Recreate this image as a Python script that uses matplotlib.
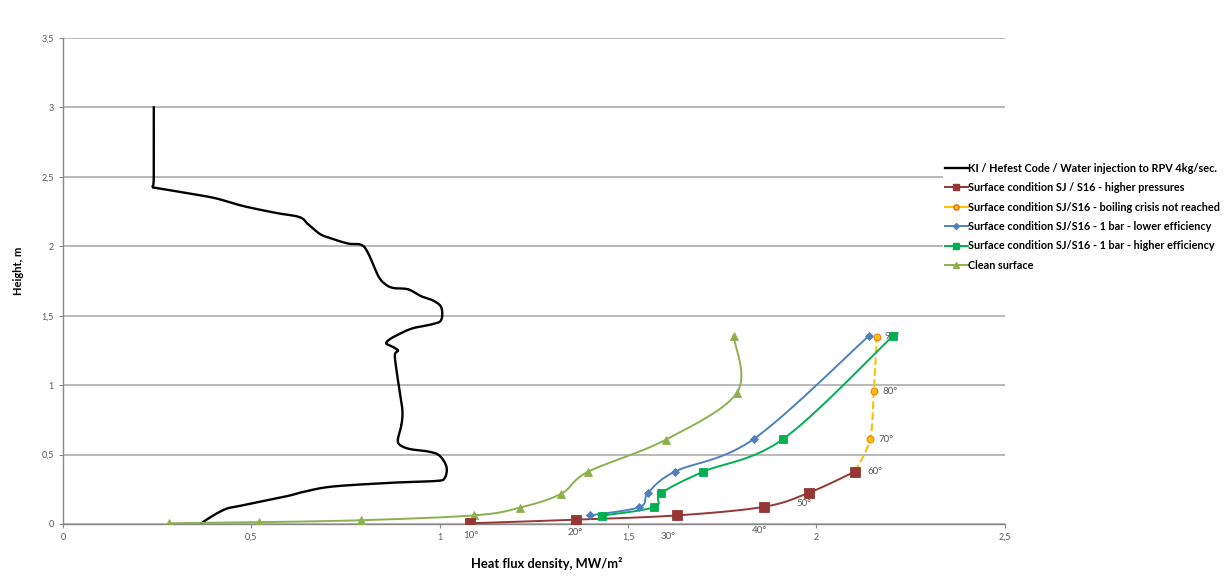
import numpy as np
import matplotlib.pyplot as plt

plt.rcParams['font.family'] = ['Lato', 'DejaVu Sans']

# KI / Hefest code profile (heat flux MW/m2, height m)
hefest_q = [0.241, 0.241, 0.238, 0.248, 0.292, 0.398, 0.478, 0.566, 0.628, 0.650,
            0.681, 0.708, 0.756, 0.792, 0.810, 0.836, 0.854, 0.876, 0.916, 0.951,
            0.982, 1.004, 1.004, 0.982, 0.929, 0.894, 0.867, 0.858, 0.872, 0.889,
            0.881, 0.885, 0.894, 0.901, 0.898, 0.889, 0.894, 0.920, 0.973, 1.000,
            1.018, 1.013, 0.991, 0.894, 0.717, 0.637, 0.602, 0.540, 0.469, 0.434,
            0.398, 0.367]
hefest_h = [3.00, 2.50, 2.43, 2.42, 2.40, 2.35, 2.29, 2.24, 2.21, 2.16,
            2.09, 2.06, 2.02, 2.01, 1.95, 1.79, 1.73, 1.70, 1.69, 1.64,
            1.61, 1.56, 1.47, 1.44, 1.41, 1.37, 1.33, 1.30, 1.28, 1.25,
            1.22, 1.11, 0.95, 0.81, 0.71, 0.61, 0.57, 0.54, 0.52, 0.49,
            0.41, 0.33, 0.31, 0.30, 0.27, 0.23, 0.205, 0.17, 0.13, 0.11,
            0.06, 0.005]

# Surface condition SJ / S16 - higher pressures
high_q = [1.081, 1.361, 1.631, 1.861, 1.980, 2.102]
high_h = [0.005, 0.031, 0.062, 0.124, 0.225, 0.377]

# boiling crisis not reached
crisis_q = [2.102, 2.142, 2.152, 2.160]
crisis_h = [0.377, 0.611, 0.955, 1.350]

# 1 bar - lower efficiency
low_q = [1.400, 1.530, 1.553, 1.624, 1.833, 2.139]
low_h = [0.062, 0.122, 0.225, 0.377, 0.611, 1.355]

# 1 bar - higher efficiency
heff_q = [1.431, 1.570, 1.587, 1.698, 1.911, 2.202]
heff_h = [0.060, 0.122, 0.220, 0.375, 0.611, 1.352]

# clean surface
clean_q = [0.281, 0.520, 0.792, 1.092, 1.212, 1.322, 1.393, 1.600, 1.789, 1.780]
clean_h = [0.005, 0.013, 0.027, 0.062, 0.117, 0.217, 0.375, 0.607, 0.946, 1.352]

# angle labels
angle_text = ['10°', '20°', '30°', '40°', '50°', '60°', '70°', '80°', '90°']
angle_q = [1.062, 1.340, 1.586, 1.829, 1.946, 2.136, 2.164, 2.175, 2.180]
angle_h = [-0.086, -0.065, -0.093, -0.045, 0.146, 0.377, 0.611, 0.953, 1.352]


def smooth(xs, ys, n=20):
    # catmull-rom like excel "smoothed line"
    p = np.column_stack([xs, ys]).astype(float)
    p = np.vstack([p[0], p, p[-1]])
    out = []
    t = np.linspace(0, 1, n)[:, None]
    for i in range(1, len(p) - 2):
        p0, p1, p2, p3 = p[i - 1], p[i], p[i + 1], p[i + 2]
        seg = 0.5 * ((2 * p1) + (-p0 + p2) * t + (2 * p0 - 5 * p1 + 4 * p2 - p3) * t ** 2
                     + (-p0 + 3 * p1 - 3 * p2 + p3) * t ** 3)
        out.append(seg)
    out = np.vstack(out)
    return out[:, 0], out[:, 1]


fig = plt.figure(figsize=(12.28, 5.82), dpi=100)
ax = fig.add_axes([0.0513, 0.0997, 0.767, 0.835])

series = [
    (hefest_q, hefest_h, 'KI / Hefest Code / Water injection to RPV 4kg/sec.', '#000000', None, '-', 1.7, 0, 3),
    (high_q, high_h, 'Surface condition SJ / S16 - higher pressures', '#953735', 's', '-', 1.4, 6.5, 6),
    (crisis_q, crisis_h, 'Surface condition SJ/S16 - boiling crisis not reached', '#FFC000', 'o', '--', 1.5, 5, 4),
    (low_q, low_h, 'Surface condition SJ/S16 - 1 bar - lower efficiency', '#4F81BD', 'D', '-', 1.4, 4, 4),
    (heff_q, heff_h, 'Surface condition SJ/S16 - 1 bar - higher efficiency', '#00B050', 's', '-', 1.4, 5.5, 4),
    (clean_q, clean_h, 'Clean surface', '#8DB04F', '^', '-', 1.4, 6, 4),
]

for q, h, label, color, marker, ls, lw, ms, z in series:
    sx, sy = smooth(q, h)
    ax.plot(sx, sy, color=color, linestyle=ls, linewidth=lw, zorder=3)
    mec = '#E46C0A' if marker == 'o' else color
    ax.plot(q, h, linestyle='none', marker=marker, color=color, markersize=ms,
            markeredgecolor=mec, markeredgewidth=0.6, zorder=z)
    ax.plot([], [], color=color, linestyle='-', linewidth=lw, marker=marker,
            markersize=ms * 0.75, markeredgecolor=mec, label=label)

for txt, q, h in zip(angle_text, angle_q, angle_h):
    ax.text(q, h, txt, fontsize=7, color='#595959', ha='left', va='center',
            clip_on=False, zorder=3.5)

ax.set_xlim(0, 2.5)
ax.set_ylim(0, 3.5)
ax.set_xticks([0, 0.5, 1, 1.5, 2, 2.5])
ax.set_xticklabels(['0', '0,5', '1', '1,5', '2', '2,5'])
ax.set_yticks(np.arange(0, 3.51, 0.5))
ax.set_yticklabels(['0', '0,5', '1', '1,5', '2', '2,5', '3', '3,5'])
ax.tick_params(labelsize=6.5, labelcolor='#595959', color='#888888', length=3, width=0.8)
ax.grid(axis='y', color='#A6A6A6', linewidth=1.1)
ax.set_axisbelow(True)
for s in ['top', 'right']:
    ax.spines[s].set_visible(False)
for s in ['left', 'bottom']:
    ax.spines[s].set_color('#888888')
    ax.spines[s].set_linewidth(1.0)

fig.text(0.015, 0.535, 'Height, m', rotation=90, fontsize=8, fontweight='bold',
         ha='center', va='center')
fig.text(0.445, 0.032, 'Heat flux density, MW/m²', fontsize=9.3, fontweight='bold',
         ha='center', va='center')

leg = ax.legend(loc='upper left', bbox_to_anchor=(0.934, 0.748), frameon=True,
                fontsize=7.8, handlelength=2.1, handletextpad=0.05, labelspacing=0.78,
                borderpad=0.2, borderaxespad=0)
leg.get_frame().set_edgecolor('none')
leg.get_frame().set_facecolor('white')
leg.get_frame().set_alpha(1)
for t in leg.get_texts():
    t.set_fontweight('bold')

fig.savefig('out.png', dpi=100)
